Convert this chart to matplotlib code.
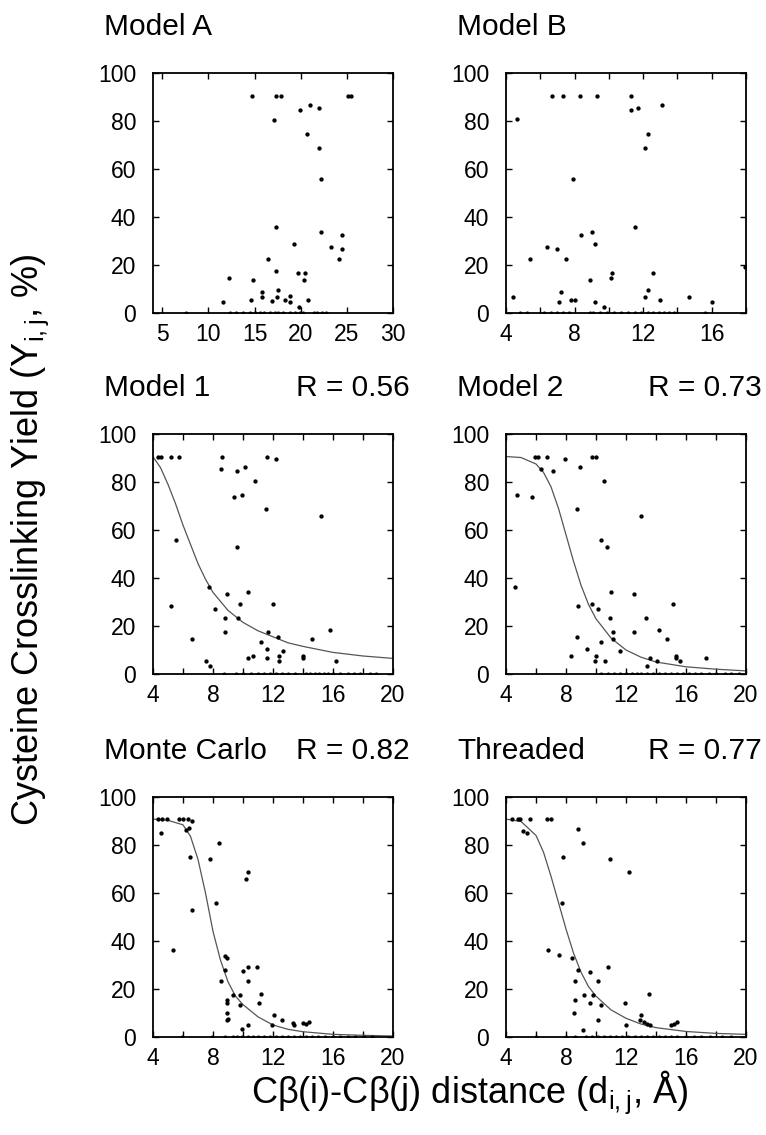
import matplotlib
matplotlib.use("Agg")
import matplotlib.pyplot as plt

plt.rcParams['font.family'] = ['Liberation Sans', 'DejaVu Sans']

W, H = 766, 1135

# ---- data ----
A_x = [14.75, 17.3, 17.9, 25.1, 25.5, 17.1, 19.9, 21.0, 22.0, 20.7, 22.0, 22.2, 17.3, 22.2, 24.5,
       23.3, 24.5, 24.1, 19.3, 16.5, 17.3, 19.7, 20.5, 20.4, 12.2, 14.8, 15.8, 15.8, 17.5, 17.4,
       16.9, 18.3, 18.8, 18.8, 14.6, 11.6, 20.8, 19.8]
A_y = [90.5, 90.5, 90.5, 90.5, 90.5, 80.4, 84.6, 86.7, 85.6, 74.5, 68.7, 55.7, 35.7, 33.7, 32.6,
       27.6, 26.6, 22.7, 28.7, 22.7, 17.6, 16.6, 16.6, 13.6, 14.7, 13.7, 8.7, 6.7, 9.7, 6.6,
       4.8, 5.6, 6.9, 4.6, 5.6, 4.6, 5.6, 2.5]
A_zero = [7.6, 12.3, 13.0, 13.8, 14.5, 15.0, 15.6, 16.0, 16.7, 17.2, 17.5, 18.1, 18.8, 19.4,
          19.9, 20.3, 21.4, 21.8, 22.3, 22.7]

B_x = [4.4, 4.65, 5.4, 6.4, 7.0, 6.7, 7.3, 8.3, 9.3, 11.3, 11.3, 11.7, 13.1, 12.3, 12.1, 7.9,
       11.55, 8.4, 9.0, 9.2, 7.5, 8.9, 10.1, 10.2, 12.6, 7.2, 7.1, 7.8, 8.0, 9.2, 9.7, 12.1,
       12.3, 13.0, 14.7, 16.0, 17.95]
B_y = [6.7, 80.7, 22.7, 27.6, 26.6, 90.5, 90.5, 90.5, 90.5, 90.5, 84.6, 85.6, 86.6, 74.5, 68.7,
       55.7, 35.7, 32.6, 33.6, 28.7, 22.7, 13.7, 14.7, 16.6, 16.6, 8.7, 4.6, 5.6, 5.6, 4.6, 2.5,
       6.7, 9.7, 5.6, 6.7, 4.6, 19.0]
B_zero = [4.8, 5.2, 6.2, 6.6, 7.0, 7.3, 7.7, 8.9, 9.1, 9.5, 9.9, 10.3, 10.7, 11.1, 11.5, 11.9,
          12.3, 12.6, 12.9, 13.2, 13.5, 13.8, 15.6]

M1_x = [4.33, 4.56, 5.2, 5.7, 8.6, 11.6, 12.2, 8.5, 9.6, 10.1, 10.8, 9.4, 9.9, 11.5, 15.2, 9.6,
        5.5, 7.7, 10.3, 8.9, 9.8, 12.0, 5.2, 8.1, 8.8, 9.7, 8.8, 11.7, 15.8, 6.6, 12.3, 14.6,
        11.2, 11.6, 12.7, 12.4, 12.4, 10.7, 10.3, 11.6, 14.0, 14.0, 16.2, 7.5, 7.8]
M1_y = [90.6, 90.6, 90.6, 90.6, 90.6, 90.6, 89.5, 85.5, 84.6, 86.4, 80.6, 73.6, 74.7, 68.9, 65.7,
        53.1, 55.9, 36.2, 34.0, 33.2, 29.3, 29.3, 28.2, 27.2, 23.2, 23.4, 17.3, 17.3, 18.3, 14.4,
        15.4, 14.4, 13.4, 10.4, 9.4, 7.6, 5.5, 7.5, 6.5, 6.5, 7.5, 6.5, 5.5, 5.5, 3.5]
M1_zero = [8.7, 9.5, 10.0, 10.5, 11.0, 11.4, 11.8, 12.2, 12.6, 13.0, 13.5, 14.2, 14.5, 14.8,
           15.1, 15.4, 15.7, 16.0, 16.5, 17.0, 17.4, 17.8, 18.5, 18.9]
M1_fit_x = [4, 4.5, 5, 5.5, 6, 6.5, 7, 7.5, 8, 9, 10, 11, 12, 13, 14, 16, 18, 20]
M1_fit_y = [90.5, 86, 79, 71, 62, 54, 46, 39.5, 34, 26.5, 21.5, 18, 15.5, 13, 11.5, 9, 7.5, 6.5]

M2_x = [5.9, 6.1, 6.7, 7.9, 9.7, 10.0, 6.3, 7.1, 8.9, 10.5, 4.7, 5.7, 8.7, 13.0, 10.3, 10.7,
        4.6, 11.0, 12.5, 8.8, 9.7, 10.1, 15.1, 10.9, 13.3, 11.1, 12.5, 14.2, 8.7, 11.1, 14.7,
        10.3, 9.4, 11.6, 8.3, 10.0, 9.9, 10.6, 13.6, 14.05, 15.3, 15.35, 15.6, 17.3, 13.4]
M2_y = [90.6, 90.6, 90.6, 89.6, 90.6, 90.6, 85.5, 84.6, 86.4, 80.6, 74.7, 73.6, 68.9, 65.7, 56.0,
        53.1, 36.2, 34.0, 33.2, 28.2, 29.3, 27.2, 29.2, 23.2, 23.2, 17.3, 17.3, 18.3, 15.4, 14.4,
        14.4, 13.4, 10.5, 9.4, 7.5, 7.5, 5.5, 5.5, 6.5, 5.5, 7.5, 6.5, 5.5, 6.5, 3.5]
M2_zero = [10.3, 10.8, 11.2, 11.6, 12.0, 12.4, 12.7, 13.0, 13.4, 13.8, 14.2, 14.6, 15.0, 15.4,
           15.8, 16.2, 16.6, 17.0, 17.5, 18.0, 18.6, 19.0, 19.5]
M2_fit_x = [4, 5, 6, 6.5, 7, 7.5, 8, 8.5, 9, 9.5, 10, 11, 12, 13, 14, 16, 18, 20]
M2_fit_y = [90.6, 90.2, 87.5, 84, 78, 69, 58, 47, 37, 29, 23, 15, 10, 7, 5, 3, 2, 1.3]

MC_x = [4.33, 4.6, 4.9, 5.7, 6.0, 6.3, 6.6, 4.5, 6.2, 6.4, 6.45, 8.4, 7.8, 10.2, 10.3, 8.2, 6.6,
        5.3, 8.8, 8.9, 8.8, 10.0, 10.3, 10.9, 8.5, 10.3, 11.2, 9.35, 9.8, 8.9, 8.9, 11.1, 9.8,
        8.9, 8.9, 9.0, 12.1, 12.6, 11.9, 10.3, 13.3, 13.4, 14.0, 14.2, 14.4, 9.9]
MC_y = [90.8, 90.8, 90.8, 90.8, 90.8, 90.8, 89.8, 85.0, 86.4, 87.0, 74.9, 80.8, 74.1, 65.9, 68.9,
        56.0, 52.9, 36.1, 33.8, 33.0, 28.1, 27.4, 29.2, 29.2, 23.3, 23.3, 18.1, 17.3, 17.3, 15.3,
        14.2, 14.3, 13.2, 10.2, 7.2, 7.7, 9.1, 7.2, 5.2, 5.2, 6.0, 5.2, 6.0, 5.6, 6.3, 3.5]
MC_zero = [5.9, 7.9, 8.8, 9.3, 9.6, 9.9, 10.3, 10.7, 11.0, 11.4, 11.8, 12.2, 12.6, 13.0, 13.4,
           13.8, 14.2, 14.6, 15.0, 15.5, 16.0, 16.5, 17.0, 17.5, 18.1, 18.6]
MC_fit_x = [4, 5, 6, 6.5, 7, 7.5, 8, 8.5, 9, 9.5, 10, 11, 12, 13, 14, 16, 18, 20]
MC_fit_y = [90.8, 90.3, 88.4, 83.6, 74, 60, 44, 32, 23, 17, 13.5, 8.4, 5, 3.2, 2.2, 1.1, 0.7, 0.4]

TH_x = [4.4, 4.8, 4.9, 5.6, 6.7, 7.0, 5.1, 5.4, 8.8, 9.1, 7.8, 10.9, 12.2, 7.7, 6.8, 7.5, 8.4,
        8.8, 9.6, 10.8, 8.6, 10.1, 9.2, 9.8, 9.6, 10.3, 11.9, 8.6, 13.5, 8.5, 10.1, 13.0, 12.9,
        13.2, 13.4, 13.6, 12.0, 15.0, 15.2, 15.4, 9.1]
TH_y = [90.8, 90.8, 90.8, 90.8, 90.8, 90.8, 86.0, 85.2, 86.8, 80.8, 74.9, 74.1, 68.9, 56.0, 36.1,
        34.1, 33.1, 28.1, 27.2, 29.2, 23.3, 23.3, 17.3, 17.3, 14.2, 13.2, 14.2, 15.3, 18.1, 10.2,
        7.2, 9.1, 7.2, 6.3, 5.3, 5.2, 5.2, 5.2, 5.3, 6.3, 3.1]
TH_zero = [6.0, 8.0, 8.6, 9.3, 9.7, 10.1, 10.5, 10.9, 11.3, 11.7, 12.1, 12.6, 13.0, 13.4, 13.8,
           14.2, 14.6, 15.0, 15.4, 16.0, 16.5, 17.0, 17.6, 18.4, 19.0]
TH_fit_x = [4, 5, 6, 6.5, 7, 7.5, 8, 8.5, 9, 9.5, 10, 11, 12, 13, 14, 16, 18, 20]
TH_fit_y = [90.8, 89.8, 84, 77, 67, 56, 45, 35, 27, 21, 17, 11.3, 7.8, 5.4, 3.9, 2.3, 1.5, 1.1]

titles = ["Model A", "Model B", "Model 1", "Model 2", "Monte Carlo", "Threaded"]
r_labels = [None, None, "R = 0.56", "R = 0.73", "R = 0.82", "R = 0.77"]

# ---- layout (pixels) ----
col_left = [153, 506]
col_w = 240
row_top = [73, 434, 797]
row_h = 240

fig = plt.figure(figsize=(W / 100, H / 100), dpi=100)


def make_ax(row, col):
    l = col_left[col] / W
    b = 1 - (row_top[row] + row_h) / H
    ax = fig.add_axes([l, b, col_w / W, row_h / H])
    for s in ax.spines.values():
        s.set_linewidth(1.3)
    ax.tick_params(direction='in', top=True, right=True, length=4, width=1.0,
                   labelsize=16.5)
    ax.tick_params(axis='y', pad=12)
    ax.tick_params(axis='x', pad=7)
    ax.set_ylim(0, 100)
    ax.set_yticks([0, 20, 40, 60, 80, 100])
    return ax


def dots(ax, x, y, zero):
    ax.plot(x, y, 'o', ms=2.1, color='black', mec='black')
    ax.plot(zero, [0] * len(zero), 'o', ms=1.9, color='black')


panels = [
    (A_x, A_y, A_zero, None, None),
    (B_x, B_y, B_zero, None, None),
    (M1_x, M1_y, M1_zero, M1_fit_x, M1_fit_y),
    (M2_x, M2_y, M2_zero, M2_fit_x, M2_fit_y),
    (MC_x, MC_y, MC_zero, MC_fit_x, MC_fit_y),
    (TH_x, TH_y, TH_zero, TH_fit_x, TH_fit_y),
]

for i, (px, py, pz, fx, fy) in enumerate(panels):
    row, col = divmod(i, 2)
    ax = make_ax(row, col)
    if fx is not None:
        ax.plot(fx, fy, color='#555555', lw=0.9)
    dots(ax, px, py, pz)
    if i == 0:
        ax.set_xlim(4, 30)
        ax.set_xticks([5, 10, 15, 20, 25, 30])
    elif i == 1:
        ax.set_xlim(4, 18)
        ticks = list(range(4, 19, 2))
        ax.set_xticks(ticks)
        ax.set_xticklabels([str(t) if t % 4 == 0 and t <= 16 else '' for t in ticks])
    else:
        ax.set_xlim(4, 20)
        ticks = list(range(4, 21, 2))
        ax.set_xticks(ticks)
        ax.set_xticklabels([str(t) if t % 4 == 0 else '' for t in ticks])

    ty = 1 - (row_top[row] - 46) / H
    tx = (104 if col == 0 else 457) / W
    fig.text(tx, ty, titles[i], fontsize=21.5, ha='left', va='center')
    if r_labels[i]:
        rx = (410 if col == 0 else 762) / W
        fig.text(rx, ty, r_labels[i], fontsize=21.5, ha='right', va='center')

fig.text(30 / W, 1 - 540 / H, r'Cysteine Crosslinking Yield (Y$_{\mathregular{i,j}}$, %)',
         rotation=90, fontsize=26, ha='center', va='center')
fig.text(470 / W, 1 - 1103 / H, r'C$\mathregular{\beta}$(i)-C$\mathregular{\beta}$(j) distance (d$_{\mathregular{i,j}}$, Å)',
         fontsize=26, ha='center', va='baseline')

fig.savefig('out.png', dpi=100)
